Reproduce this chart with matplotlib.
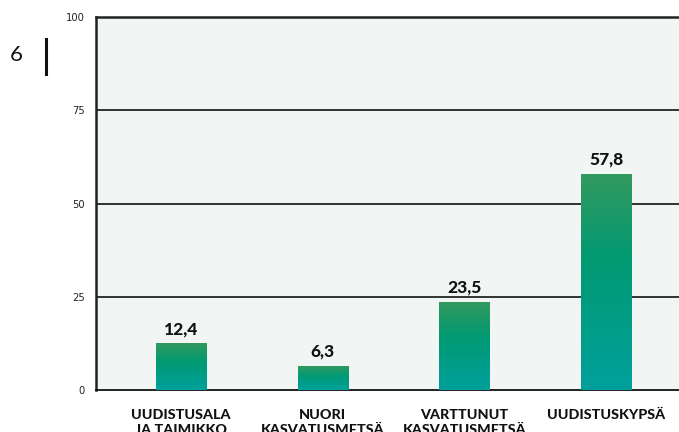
import numpy as np
import matplotlib
matplotlib.use("Agg")
import matplotlib.pyplot as plt
from matplotlib.colors import LinearSegmentedColormap

categories = ["UUDISTUSALA\nJA TAIMIKKO", "NUORI\nKASVATUSMETSÄ",
              "VARTTUNUT\nKASVATUSMETSÄ", "UUDISTUSKYPSÄ"]
values = [12.4, 6.3, 23.5, 57.8]
value_labels = ["12,4", "6,3", "23,5", "57,8"]
yticks = [0, 25, 50, 75, 100]

fig = plt.figure(figsize=(6.79, 4.32), dpi=100)
ax = fig.add_axes([96 / 679, 42 / 432, 1 - 96 / 679, 373 / 432])
ax.set_facecolor("#f1f6f4")

cmap = LinearSegmentedColormap.from_list(
    "g", [(0.0, "#00a09c"), (0.6, "#009a73"), (1.0, "#33995e")])
grad = np.linspace(0, 1, 256).reshape(-1, 1)

x = np.arange(len(values))
w = 0.353
for xi, v, lab in zip(x, values, value_labels):
    ax.imshow(grad, cmap=cmap, origin="lower", aspect="auto",
              extent=[xi - w / 2, xi + w / 2, 0, v], zorder=3,
              interpolation="bilinear")
    ax.text(xi, v + 1.8, lab, ha="center", va="bottom", fontsize=12.5,
            fontweight="black", family="Lato", color="#111111", zorder=4)

ax.set_xlim(-0.6, 3.515)
ax.set_ylim(0, 100)
for g in [25, 50, 75]:
    ax.axhline(g, color="#111111", lw=1.2, zorder=1)

ax.set_yticks(yticks)
ax.set_yticklabels([str(t) for t in yticks], fontsize=7.2, color="#222222")
ax.tick_params(axis="y", length=0, pad=8)
ax.set_xticks(x)
ax.set_xticklabels(categories, fontsize=10.3, fontweight="black",
                   family="Lato", color="#111111", linespacing=1.3)
ax.tick_params(axis="x", length=0, pad=13.5)

for s in ["top", "left"]:
    ax.spines[s].set_linewidth(1.8)
    ax.spines[s].set_color("#222222")
ax.spines["bottom"].set_linewidth(1.3)
ax.spines["bottom"].set_color("#111111")
ax.spines["right"].set_visible(False)

fig.text(16 / 679, 1 - 55 / 432, "6", fontsize=16, ha="center", va="center",
         family="Lato", color="#111111")
fig.add_artist(plt.Line2D([45.5 / 679, 45.5 / 679], [1 - 39 / 432, 1 - 74 / 432],
                          color="#111111", lw=2.2))

fig.savefig("out.png", dpi=100)
